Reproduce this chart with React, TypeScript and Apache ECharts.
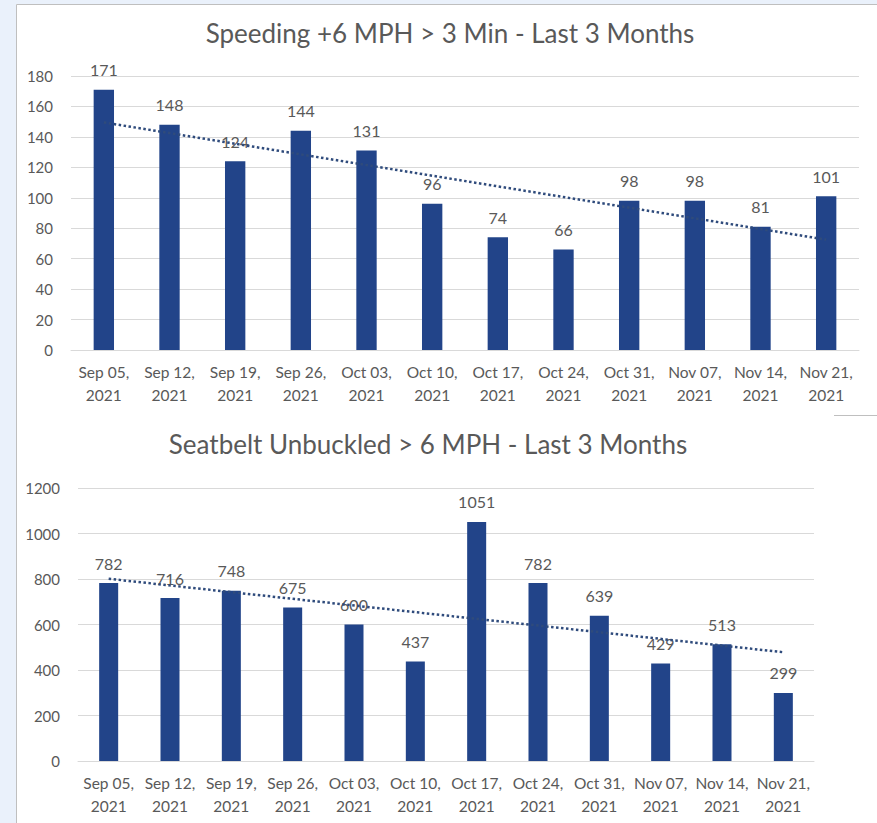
import React, { useEffect, useRef } from "react";
import * as echarts from "echarts";

const categories = [
  "Sep 05,\n2021", "Sep 12,\n2021", "Sep 19,\n2021", "Sep 26,\n2021",
  "Oct 03,\n2021", "Oct 10,\n2021", "Oct 17,\n2021", "Oct 24,\n2021",
  "Oct 31,\n2021", "Nov 07,\n2021", "Nov 14,\n2021", "Nov 21,\n2021",
];
const speedingValues = [171, 148, 124, 144, 131, 96, 74, 66, 98, 98, 81, 101];
const seatbeltValues = [782, 716, 748, 675, 600, 437, 1051, 782, 639, 429, 513, 299];
// linear trendline end points (first and last week)
const speedingTrend = [149.5, 72.5];
const seatbeltTrend = [801, 478];
const speedingTitle = "Speeding +6 MPH > 3 Min - Last 3 Months";
const seatbeltTitle = "Seatbelt Unbuckled > 6 MPH - Last 3 Months";

const FONT = "Lato, 'Open Sans', sans-serif";
const TEXT = "#595959";
const BAR = "#224489";

export default function App() {
  const ref = useRef<HTMLDivElement>(null);
  useEffect(() => {
    document.body.style.margin = "0";
    const chart = echarts.init(ref.current!, undefined, { renderer: "svg" });
    const last = categories.length - 1;
    const xAxis = (gi: number) => ({
      type: "category",
      gridIndex: gi,
      data: categories,
      axisTick: { show: false },
      axisLine: { lineStyle: { color: "#d9d9d9" } },
      axisLabel: { color: TEXT, fontSize: 15.5, fontFamily: FONT, lineHeight: 23, margin: 10, interval: 0 },
    });
    const yAxis = (gi: number, max: number, interval: number) => ({
      type: "value",
      gridIndex: gi,
      min: 0,
      max,
      interval,
      axisLabel: { color: TEXT, fontSize: 15, fontFamily: FONT, margin: 18, formatter: (v: number) => String(v) },
      splitLine: { lineStyle: { color: "#d9d9d9" } },
      axisLine: { show: false },
    });
    const label = {
      show: true,
      position: "top",
      distance: 12,
      color: TEXT,
      fontSize: 16,
      fontFamily: FONT,
    };
    chart.setOption({
      animation: false,
      title: [
        { text: speedingTitle, left: 445, top: 15, textAlign: "center",
          textStyle: { color: TEXT, fontSize: 26, fontWeight: "normal", fontFamily: FONT } },
        { text: seatbeltTitle, left: 423, top: 426, textAlign: "center",
          textStyle: { color: TEXT, fontSize: 26, fontWeight: "normal", fontFamily: FONT } },
      ],
      grid: [
        { left: 71, width: 788, top: 76, height: 274 },
        { left: 78, width: 736, top: 488, height: 273 },
      ],
      xAxis: [xAxis(0), xAxis(1)],
      yAxis: [yAxis(0, 180, 20), yAxis(1, 1200, 200)],
      graphic: [
        { type: "line", shape: { x1: 16.5, y1: 4.5, x2: 877, y2: 4.5 }, style: { stroke: "#bfbfbf", lineWidth: 1 } },
        { type: "line", shape: { x1: 16.5, y1: 4.5, x2: 16.5, y2: 823 }, style: { stroke: "#bfbfbf", lineWidth: 1 } },
        { type: "line", shape: { x1: 834, y1: 415.5, x2: 877, y2: 415.5 }, style: { stroke: "#bfbfbf", lineWidth: 1 } },
      ],
      series: [
        { type: "bar", xAxisIndex: 0, yAxisIndex: 0, data: speedingValues, barWidth: "31%",
          itemStyle: { color: BAR }, label },
        { type: "bar", xAxisIndex: 1, yAxisIndex: 1, data: seatbeltValues, barWidth: "31%",
          itemStyle: { color: BAR }, label },
        { type: "line", xAxisIndex: 0, yAxisIndex: 0, symbol: "none", z: 5,
          data: [[0, speedingTrend[0]], [last, speedingTrend[1]]],
          lineStyle: { color: "#2f4b7c", width: 2.5, type: [2.5, 2.5] } },
        { type: "line", xAxisIndex: 1, yAxisIndex: 1, symbol: "none", z: 5,
          data: [[0, seatbeltTrend[0]], [last, seatbeltTrend[1]]],
          lineStyle: { color: "#2f4b7c", width: 2.5, type: [2.5, 2.5] } },
      ],
    });
    return () => chart.dispose();
  }, []);
  return (
    <div style={{ width: 877, height: 823, position: "relative", background: "linear-gradient(to right, #eaf1fb 0px, #eaf1fb 16px, #ffffff 16px)" }}>
      <div style={{ position: "absolute", left: 0, top: 0, width: 877, height: 4, background: "#eaf1fb" }} />
      <div ref={ref} style={{ position: "absolute", left: 0, top: 0, width: 877, height: 823 }} />
    </div>
  );
}
